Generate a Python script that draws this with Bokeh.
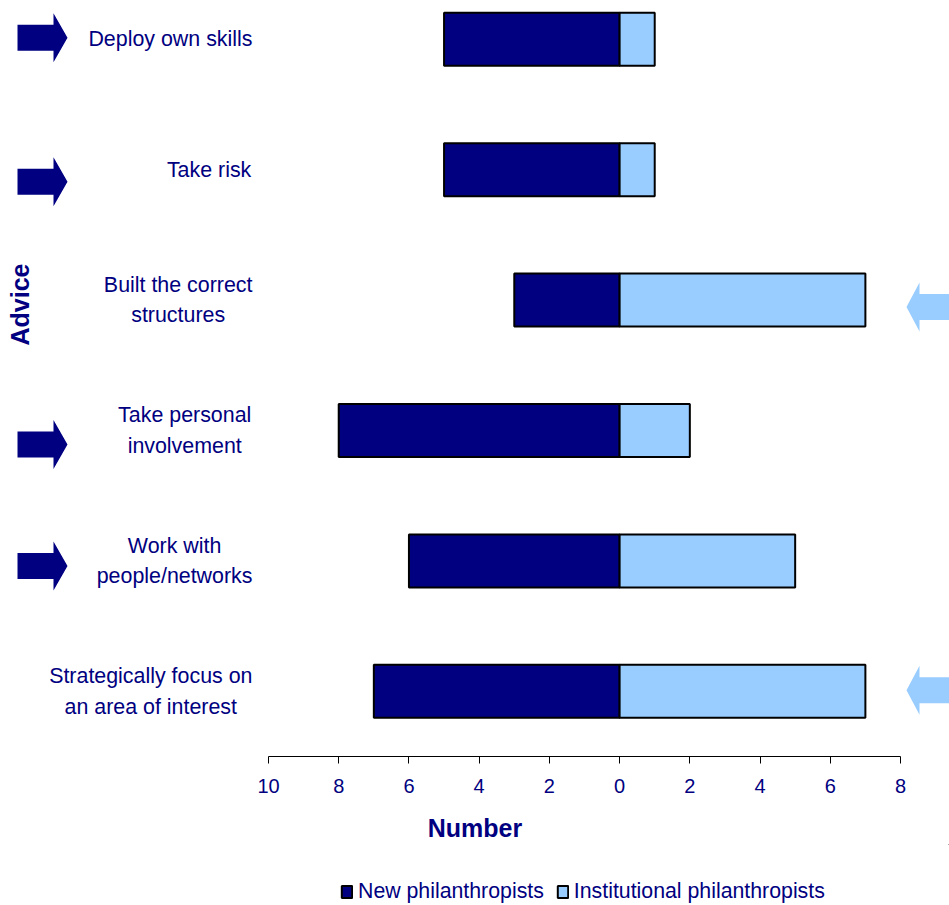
import math
from bokeh.plotting import figure
from bokeh.layouts import column
from bokeh.models import (Range1d, LinearAxis, FixedTicker, Legend, LegendItem,
                          ColumnDataSource)
from bokeh.core.properties import value
from bokeh.embed import file_html
from bokeh.resources import INLINE

# ---------------- data ----------------
categories = ["Deploy own skills", "Take risk", "Built the correct\nstructures",
              "Take personal\ninvolvement", "Work with\npeople/networks",
              "Strategically focus on\nan area of interest"]
new_philanthropists = [5, 5, 3, 8, 6, 7]
institutional_philanthropists = [1, 1, 7, 2, 5, 7]
x_ticks = [-10, -8, -6, -4, -2, 0, 2, 4, 6, 8]
arrow_side = ["left", "left", "right", "left", "left", "right"]
series_names = ["New philanthropists", "Institutional philanthropists"]

# ---------------- styling ----------------
NAVY = "#000080"
LIGHT = "#99CCFF"
FONT = "Liberation Sans"
W, FRAME_H = 949, 756
PXX = 632 / 18.0            # pixels per x unit
PXY = 130.4                 # pixels per category
X_START = -10 - 268 / PXX
X_END = X_START + W / PXX
Y_BOTTOM = -0.5
Y_TOP = Y_BOTTOM + FRAME_H / PXY
arrow_nudge_px = [-1.5, 12, 7, 14, 5, -1]


def px_x(px):
    return X_START + px / PXX


def px_y(py):
    return Y_TOP - py / PXY


# Arial / Liberation Sans advance widths (1/1000 em)
AW = dict(zip("abcdefghijklmnopqrstuvwxyz",
              [556, 556, 500, 556, 556, 278, 556, 556, 222, 222, 500, 222, 833,
               556, 556, 556, 556, 333, 500, 278, 556, 500, 722, 500, 500, 500]))
AW.update({" ": 278, "/": 278, "B": 667, "D": 722, "S": 667, "T": 611, "W": 944})


def text_w(s, size):
    return max(sum(AW.get(c, 556) for c in line) for line in s.split("\n")) * size / 1000.0


n = len(categories)
ys = [n - 1 - i for i in range(n)]

src = ColumnDataSource(dict(
    y=ys,
    new_left=[-v for v in new_philanthropists],
    zero=[0] * n,
    inst=institutional_philanthropists,
))

p = figure(frame_width=W, frame_height=FRAME_H,
           x_range=Range1d(X_START, X_END), y_range=Range1d(Y_BOTTOM, Y_TOP),
           x_axis_location=None, y_axis_location=None,
           toolbar_location=None, output_backend="svg",
           min_border=0, outline_line_color=None)
p.grid.visible = False

bar_h = 53 / PXY
bar_style = dict(line_color="black", line_width=2)
r_new = p.hbar(y="y", left="new_left", right="zero", height=bar_h, source=src,
               fill_color=NAVY, **bar_style)
r_inst = p.hbar(y="y", left="zero", right="inst", height=bar_h, source=src,
                fill_color=LIGHT, **bar_style)

# category labels (block right-aligned at the label column, lines centred)
LABEL_SIZE = 21.4
label_x = [px_x(252 - text_w(c, LABEL_SIZE) / 2) for c in categories]
p.text(x=label_x, y=ys, text=categories, text_align="center", text_baseline="middle",
       text_font=value(FONT), text_font_size=value(f"{LABEL_SIZE}px"),
       text_color=NAVY, text_line_height=1.27)

# y title
p.text(x=[px_x(19)], y=[px_y(304)], text=["Advice"], angle=math.pi / 2,
       text_align="center", text_baseline="middle", text_font=value(FONT),
       text_font_size=value("25px"), text_font_style="bold", text_color=NAVY)

# arrows
left_shape = [(17, -13), (53, -13), (53, -24.5), (67, 0), (53, 24.5), (53, 13), (17, 13)]
right_shape = [(960, -13), (919, -13), (919, -24.5), (906, 0), (919, 24.5), (919, 13), (960, 13)]
axs, ays, acol = [], [], []
for yc, side, nudge in zip(ys, arrow_side, arrow_nudge_px):
    shape = left_shape if side == "left" else right_shape
    axs.append([px_x(sx) for sx, _ in shape])
    ays.append([yc - (nudge + sy) / PXY for _, sy in shape])
    acol.append(NAVY if side == "left" else LIGHT)
p.patches(xs=axs, ys=ays, fill_color=acol, line_color=None)

# x axis
xaxis = LinearAxis(ticker=FixedTicker(ticks=x_ticks), bounds=(-10, 8),
                   major_label_overrides={t: str(abs(t)) for t in x_ticks},
                   axis_label="Number")
xaxis.axis_line_color = "black"
xaxis.major_tick_line_color = "black"
xaxis.major_tick_in = 0
xaxis.major_tick_out = 7
xaxis.minor_tick_line_color = None
xaxis.major_label_standoff = 15
xaxis.major_label_text_font = FONT
xaxis.major_label_text_font_size = "20px"
xaxis.major_label_text_color = NAVY
xaxis.axis_label_standoff = 18
xaxis.axis_label_text_font = FONT
xaxis.axis_label_text_font_size = "25px"
xaxis.axis_label_text_font_style = "bold"
xaxis.axis_label_text_color = NAVY
p.add_layout(xaxis, "below")

# legend strip below the chart (proxy renderers lie far outside the visible range)
pl = figure(frame_width=W, frame_height=60, x_range=Range1d(0, 1), y_range=Range1d(0, 1),
            x_axis_location=None, y_axis_location=None,
            toolbar_location=None, output_backend="svg",
            min_border=0, outline_line_color=None)
pl.grid.visible = False
lg_new = pl.hbar(y=[1000], left=[1000], right=[1001], height=1, fill_color=NAVY, **bar_style)
lg_inst = pl.hbar(y=[1000], left=[1000], right=[1001], height=1, fill_color=LIGHT, **bar_style)
legend = Legend(items=[LegendItem(label=series_names[0], renderers=[lg_new]),
                       LegendItem(label=series_names[1], renderers=[lg_inst])],
                orientation="horizontal", location=(340, 0),
                glyph_width=13, glyph_height=15, label_standoff=5, spacing=12,
                padding=0, margin=0, border_line_color=None, background_fill_alpha=0,
                label_text_font=FONT, label_text_font_size="21.3px",
                label_text_color=NAVY)
pl.add_layout(legend, "center")

layout = column(p, pl, spacing=0)
open("out.html", "w").write(file_html(layout, INLINE))
